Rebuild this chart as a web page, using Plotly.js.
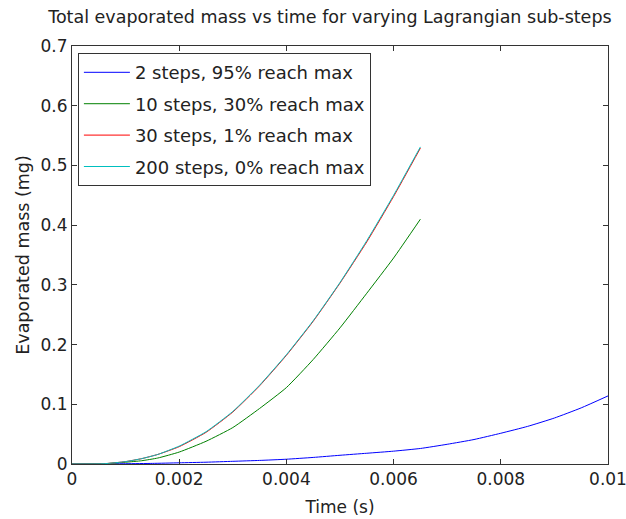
<!DOCTYPE html>
<html>
<head>
<meta charset="utf-8">
<script src="https://cdn.plot.ly/plotly-3.0.1.min.js"></script>
<style>
html,body{margin:0;padding:0;background:#fff;}
#chart{width:626px;height:519px;}
</style>
</head>
<body>
<div id="chart"></div>
<script>
// Series names
const seriesNames = [
  "2 steps, 95% reach max",
  "10 steps, 30% reach max",
  "30 steps, 1% reach max",
  "200 steps, 0% reach max"
];

// 2 steps (blue)
const t2 = [0, 0.001, 0.0015, 0.002, 0.0025, 0.003, 0.0035, 0.004, 0.0045, 0.005, 0.0055, 0.006, 0.0065, 0.007, 0.0075, 0.008, 0.0085, 0.009, 0.0095, 0.01];
const m2 = [0, 0.0005, 0.001, 0.002, 0.003, 0.0045, 0.006, 0.008, 0.011, 0.0146, 0.018, 0.0215, 0.026, 0.033, 0.041, 0.0515, 0.063, 0.077, 0.094, 0.114];

// 10 steps (green)
const t10 = [0, 0.0006, 0.001, 0.0013, 0.0016, 0.002, 0.0025, 0.003, 0.0035, 0.004, 0.0045, 0.005, 0.0055, 0.006, 0.0065];
const m10 = [0, 0.0005, 0.003, 0.0055, 0.010, 0.020, 0.038, 0.061, 0.093, 0.128, 0.175, 0.228, 0.286, 0.345, 0.410];

// 30 steps (red)
const t30 = [0, 0.0006, 0.001, 0.0013, 0.0016, 0.002, 0.0025, 0.003, 0.0035, 0.004, 0.0045, 0.005, 0.0055, 0.006, 0.0065];
const m30 = [0, 0.0005, 0.004, 0.009, 0.016, 0.029, 0.053, 0.087, 0.131, 0.182, 0.239, 0.303, 0.372, 0.448, 0.529];

// 200 steps (cyan)
const t200 = [0, 0.0006, 0.001, 0.0013, 0.0016, 0.002, 0.0025, 0.003, 0.0035, 0.004, 0.0045, 0.005, 0.0055, 0.006, 0.0065];
const m200 = [0, 0.0005, 0.004, 0.009, 0.016, 0.030, 0.054, 0.088, 0.132, 0.183, 0.240, 0.304, 0.374, 0.450, 0.531];

// Axis ticks
const xTicks = [0, 0.002, 0.004, 0.006, 0.008, 0.01];
const xTickLabels = ["0", "0.002", "0.004", "0.006", "0.008", "0.01"];
const yTicks = [0, 0.1, 0.2, 0.3, 0.4, 0.5, 0.6, 0.7];
const yTickLabels = ["0", "0.1", "0.2", "0.3", "0.4", "0.5", "0.6", "0.7"];

const colors = ["#0000ff", "#008000", "#ff0000", "#00bfbf"];
const xs = [t2, t10, t30, t200];
const ys = [m2, m10, m30, m200];

const traces = seriesNames.map((n, i) => ({
  x: xs[i], y: ys[i], name: n, type: "scatter", mode: "lines",
  legendgroup: "g" + i,
  line: {color: colors[i], width: 1, shape: "spline", smoothing: 0.5}
}));

const font = "DejaVu Sans, Verdana, sans-serif";
const axisCommon = {
  showgrid: false, zeroline: false, showline: true, linecolor: "#333", linewidth: 1,
  mirror: "ticks", ticks: "inside", ticklen: 5, tickcolor: "#333", tickwidth: 1,
  ticklabeloverflow: "allow",
  tickfont: {family: font, size: 17, color: "#222"}
};

const layout = {
  width: 626, height: 519,
  margin: {l: 72, r: 18, t: 46, b: 55},
  paper_bgcolor: "#fff", plot_bgcolor: "#fff",
  title: {text: "Total evaporated mass vs time for varying Lagrangian sub-steps",
          font: {family: font, size: 17.5, color: "#222"}, xref: "container", x: 0.527, xanchor: "center", y: 0.967, yanchor: "middle"},
  xaxis: Object.assign({}, axisCommon, {
    range: [0, 0.01], tickvals: xTicks, ticktext: xTickLabels,
    title: {text: "Time (s)", font: {family: font, size: 17, color: "#222"}, standoff: 12}
  }),
  yaxis: Object.assign({}, axisCommon, {
    range: [0, 0.7], tickvals: yTicks, ticktext: yTickLabels,
    title: {text: "Evaporated mass (mg)", font: {family: font, size: 17.5, color: "#222"}, standoff: 6}
  }),
  legend: {x: 0.011, y: 0.983, xanchor: "left", yanchor: "top",
           bgcolor: "#fff", bordercolor: "#333", borderwidth: 1,
           itemwidth: 46, tracegroupgap: 5,
           font: {family: font, size: 18, color: "#222"}},
  showlegend: true
};

Plotly.newPlot("chart", traces, layout, {displayModeBar: false, staticPlot: true});
</script>
</body>
</html>
